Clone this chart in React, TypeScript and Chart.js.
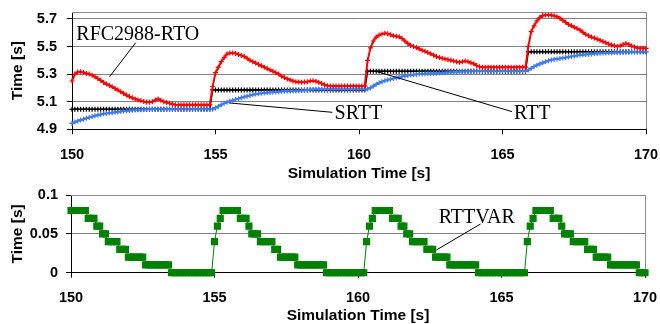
import React, { useEffect, useRef } from 'react';
import { Chart, registerables } from 'chart.js';

Chart.register(...registerables);

// Sampling grid (simulation time, s)
const T: number[] = Array.from({ length: 201 }, (_, i) => Math.round((150 + i * 0.1) * 10) / 10);
const X_TICKS = [150, 155, 160, 165, 170];
const TOP_Y_TICKS = [4.9, 5.1, 5.3, 5.5, 5.7];
const BOTTOM_Y_TICKS = [0, 0.05, 0.1];

// RFC2988-RTO (red)
const RTO: number[] = [
  5.25, 5.30, 5.315, 5.317, 5.312, 5.305, 5.30, 5.292, 5.28, 5.268,
  5.255, 5.24, 5.228, 5.218, 5.208, 5.196, 5.184, 5.172, 5.16, 5.148,
  5.137, 5.128, 5.12, 5.113, 5.108, 5.101, 5.097, 5.096, 5.10, 5.112,
  5.12, 5.11, 5.10, 5.094, 5.088, 5.082, 5.078, 5.077, 5.077, 5.077,
  5.077, 5.077, 5.077, 5.077, 5.077, 5.077, 5.077, 5.077, 5.077, 5.21,
  5.31, 5.35, 5.39, 5.42, 5.445, 5.452, 5.452, 5.45, 5.442, 5.435,
  5.428, 5.415, 5.40, 5.39, 5.38, 5.37, 5.36, 5.35, 5.34, 5.33,
  5.32, 5.31, 5.30, 5.285, 5.275, 5.265, 5.258, 5.25, 5.245, 5.242,
  5.241, 5.242, 5.245, 5.25, 5.252, 5.248, 5.24, 5.232, 5.222, 5.216,
  5.214, 5.214, 5.214, 5.214, 5.214, 5.214, 5.214, 5.214, 5.214, 5.214,
  5.214, 5.214, 5.214, 5.40, 5.49, 5.54, 5.568, 5.583, 5.59, 5.596,
  5.593, 5.585, 5.577, 5.574, 5.57, 5.558, 5.54, 5.522, 5.508, 5.50,
  5.492, 5.482, 5.472, 5.465, 5.456, 5.447, 5.437, 5.427, 5.42, 5.414,
  5.41, 5.405, 5.40, 5.395, 5.39, 5.386, 5.39, 5.395, 5.39, 5.382,
  5.375, 5.362, 5.354, 5.35, 5.35, 5.35, 5.35, 5.35, 5.35, 5.35,
  5.35, 5.35, 5.35, 5.35, 5.35, 5.35, 5.35, 5.35, 5.35, 5.50,
  5.608, 5.65, 5.685, 5.71, 5.724, 5.728, 5.729, 5.727, 5.722, 5.716,
  5.705, 5.69, 5.675, 5.66, 5.65, 5.64, 5.63, 5.62, 5.603, 5.588,
  5.578, 5.568, 5.561, 5.553, 5.545, 5.536, 5.528, 5.518, 5.511, 5.505,
  5.50, 5.505, 5.514, 5.522, 5.515, 5.503, 5.497, 5.489, 5.487, 5.487,
  5.487,
];

// SRTT (blue)
const SRTT: number[] = [
  4.943, 4.952, 4.96, 4.967, 4.973, 4.98, 4.986, 4.992, 4.998, 5.004,
  5.008, 5.012, 5.015, 5.018, 5.02, 5.023, 5.026, 5.029, 5.032, 5.034,
  5.036, 5.038, 5.04, 5.041, 5.042, 5.043, 5.044, 5.045, 5.045, 5.045,
  5.045, 5.045, 5.045, 5.045, 5.045, 5.045, 5.045, 5.045, 5.045, 5.045,
  5.045, 5.045, 5.045, 5.045, 5.045, 5.045, 5.045, 5.045, 5.045, 5.046,
  5.055, 5.066, 5.078, 5.088, 5.096, 5.104, 5.11, 5.116, 5.122, 5.129,
  5.135, 5.14, 5.145, 5.15, 5.155, 5.158, 5.161, 5.163, 5.165, 5.167,
  5.168, 5.17, 5.172, 5.174, 5.176, 5.177, 5.178, 5.179, 5.18, 5.18,
  5.181, 5.182, 5.185, 5.188, 5.189, 5.19, 5.19, 5.19, 5.19, 5.19,
  5.19, 5.19, 5.19, 5.19, 5.19, 5.19, 5.19, 5.19, 5.19, 5.19,
  5.19, 5.19, 5.19, 5.192, 5.2, 5.213, 5.226, 5.237, 5.245, 5.252,
  5.258, 5.263, 5.268, 5.273, 5.278, 5.283, 5.287, 5.29, 5.293, 5.296,
  5.298, 5.3, 5.301, 5.302, 5.304, 5.305, 5.306, 5.307, 5.308, 5.309,
  5.31, 5.312, 5.313, 5.314, 5.316, 5.317, 5.318, 5.319, 5.32, 5.321,
  5.322, 5.322, 5.322, 5.322, 5.322, 5.322, 5.322, 5.322, 5.322, 5.322,
  5.322, 5.322, 5.322, 5.322, 5.322, 5.322, 5.322, 5.322, 5.322, 5.33,
  5.342, 5.355, 5.365, 5.374, 5.382, 5.39, 5.397, 5.403, 5.407, 5.41,
  5.413, 5.416, 5.42, 5.424, 5.428, 5.431, 5.435, 5.438, 5.44, 5.442,
  5.444, 5.446, 5.448, 5.45, 5.451, 5.452, 5.453, 5.454, 5.455, 5.456,
  5.457, 5.457, 5.458, 5.458, 5.459, 5.46, 5.46, 5.461, 5.462, 5.462,
  5.463,
];

// RTT (black)
const RTT: number[] = [
  5.045, 5.045, 5.045, 5.045, 5.045, 5.045, 5.045, 5.045, 5.045, 5.045,
  5.045, 5.045, 5.045, 5.045, 5.045, 5.045, 5.045, 5.045, 5.045, 5.045,
  5.045, 5.045, 5.045, 5.045, 5.045, 5.045, 5.045, 5.045, 5.045, 5.045,
  5.045, 5.045, 5.045, 5.045, 5.045, 5.045, 5.045, 5.045, 5.045, 5.045,
  5.045, 5.045, 5.045, 5.045, 5.045, 5.045, 5.045, 5.045, 5.045, 5.185,
  5.185, 5.185, 5.185, 5.185, 5.185, 5.185, 5.185, 5.185, 5.185, 5.185,
  5.185, 5.185, 5.185, 5.185, 5.185, 5.185, 5.185, 5.185, 5.185, 5.185,
  5.185, 5.185, 5.185, 5.185, 5.185, 5.185, 5.185, 5.185, 5.185, 5.185,
  5.185, 5.185, 5.185, 5.185, 5.185, 5.185, 5.185, 5.185, 5.185, 5.185,
  5.185, 5.185, 5.185, 5.185, 5.185, 5.185, 5.185, 5.185, 5.185, 5.185,
  5.185, 5.185, 5.185, 5.32, 5.32, 5.32, 5.32, 5.32, 5.32, 5.32,
  5.32, 5.32, 5.32, 5.32, 5.32, 5.32, 5.32, 5.32, 5.32, 5.32,
  5.32, 5.32, 5.32, 5.32, 5.32, 5.32, 5.32, 5.32, 5.32, 5.32,
  5.32, 5.32, 5.32, 5.32, 5.32, 5.32, 5.32, 5.32, 5.32, 5.32,
  5.32, 5.32, 5.32, 5.32, 5.32, 5.32, 5.32, 5.32, 5.32, 5.32,
  5.32, 5.32, 5.32, 5.32, 5.32, 5.32, 5.32, 5.32, 5.32, 5.462,
  5.462, 5.462, 5.462, 5.462, 5.462, 5.462, 5.462, 5.462, 5.462, 5.462,
  5.462, 5.462, 5.462, 5.462, 5.462, 5.462, 5.462, 5.462, 5.462, 5.462,
  5.462, 5.462, 5.462, 5.462, 5.462, 5.462, 5.462, 5.462, 5.462, 5.462,
  5.462, 5.462, 5.462, 5.462, 5.462, 5.462, 5.462, 5.462, 5.462, 5.462,
  5.462,
];

// RTTVAR (green)
const RTTVAR: number[] = [
  0.08, 0.08, 0.08, 0.08, 0.08, 0.08, 0.07, 0.07, 0.07, 0.06,
  0.06, 0.05, 0.05, 0.04, 0.04, 0.04, 0.04, 0.03, 0.03, 0.03,
  0.02, 0.02, 0.02, 0.02, 0.02, 0.02, 0.01, 0.01, 0.01, 0.01,
  0.01, 0.01, 0.01, 0.01, 0.01, 0, 0, 0, 0, 0,
  0, 0, 0, 0, 0, 0, 0, 0, 0, 0,
  0.04, 0.06, 0.07, 0.08, 0.08, 0.08, 0.08, 0.08, 0.08, 0.07,
  0.07, 0.07, 0.06, 0.05, 0.05, 0.05, 0.04, 0.04, 0.04, 0.04,
  0.04, 0.03, 0.03, 0.02, 0.02, 0.02, 0.02, 0.02, 0.02, 0.01,
  0.01, 0.01, 0.01, 0.01, 0.01, 0.01, 0.01, 0.01, 0.01, 0,
  0, 0, 0, 0, 0, 0, 0, 0, 0, 0,
  0, 0, 0, 0.04, 0.06, 0.07, 0.08, 0.08, 0.08, 0.08,
  0.08, 0.08, 0.07, 0.07, 0.07, 0.06, 0.06, 0.05, 0.05, 0.04,
  0.04, 0.04, 0.04, 0.04, 0.03, 0.03, 0.03, 0.02, 0.02, 0.02,
  0.02, 0.02, 0.01, 0.01, 0.01, 0.01, 0.01, 0.01, 0.01, 0.01,
  0.01, 0.01, 0, 0, 0, 0, 0, 0, 0, 0,
  0, 0, 0, 0, 0, 0, 0, 0, 0, 0.04,
  0.06, 0.07, 0.08, 0.08, 0.08, 0.08, 0.08, 0.08, 0.07, 0.07,
  0.07, 0.06, 0.05, 0.05, 0.05, 0.04, 0.04, 0.04, 0.04, 0.04,
  0.03, 0.03, 0.03, 0.02, 0.02, 0.02, 0.02, 0.02, 0.01, 0.01,
  0.01, 0.01, 0.01, 0.01, 0.01, 0.01, 0.01, 0.01, 0, 0,
  0,
];

// Callout labels (text anchor and leader line, in data units)
type Note = { text: string; tx: number; ty: number; x1: number; y1: number; x2: number; y2: number };
const TOP_NOTES: Note[] = [
  { text: 'RFC2988-RTO', tx: 150.15, ty: 5.548, x1: 152.22, y1: 5.528, x2: 151.31, y2: 5.281 },
  { text: 'SRTT', tx: 159.15, ty: 4.972, x1: 155.49, y1: 5.091, x2: 159.07, y2: 5.023 },
  { text: 'RTT', tx: 165.4, ty: 4.972, x1: 160.59, y1: 5.32, x2: 165.33, y2: 5.028 },
];
const BOTTOM_NOTES: Note[] = [
  { text: 'RTTVAR', tx: 162.81, ty: 0.0636, x1: 164.27, y1: 0.0627, x2: 162.73, y2: 0.0292 },
];

const SANS = '"Liberation Sans", Arial, Helvetica, sans-serif';
const SERIF = '"Liberation Serif", "Times New Roman", serif';
const tickFont = { family: SANS, size: 14.5, weight: 'bold' as const, lineHeight: 1 };
const titleFont = { family: SANS, size: 15.5, weight: 'bold' as const, lineHeight: 1 };

const pts = (v: number[]) => v.map((y, i) => ({ x: T[i], y }));

const framePlugin = {
  id: 'frame',
  beforeDatasetsDraw(chart: any) {
    const { ctx, chartArea: a } = chart;
    const top = Math.round(a.top) + 0.5;
    const right = Math.round(a.right) + 0.5;
    ctx.save();
    ctx.strokeStyle = '#8c8c8c';
    ctx.lineWidth = 1;
    ctx.beginPath();
    ctx.moveTo(Math.round(a.left), top);
    ctx.lineTo(right, top);
    ctx.lineTo(right, Math.round(a.bottom));
    ctx.stroke();
    ctx.restore();
  },
};

const notesPlugin = (notes: Note[]) => ({
  id: 'notes',
  afterDatasetsDraw(chart: any) {
    const { ctx, scales } = chart;
    const xs = scales.x;
    const ys = scales.y;
    ctx.save();
    ctx.strokeStyle = '#000';
    ctx.lineWidth = 1;
    ctx.fillStyle = '#000';
    ctx.font = `20px ${SERIF}`;
    ctx.textAlign = 'left';
    ctx.textBaseline = 'alphabetic';
    for (const n of notes) {
      ctx.beginPath();
      ctx.moveTo(xs.getPixelForValue(n.x1), ys.getPixelForValue(n.y1));
      ctx.lineTo(xs.getPixelForValue(n.x2), ys.getPixelForValue(n.y2));
      ctx.stroke();
      ctx.fillText(n.text, xs.getPixelForValue(n.tx), ys.getPixelForValue(n.ty));
    }
    ctx.restore();
  },
});

function xScale(height: number, titlePadBottom: number) {
  return {
    type: 'linear' as const,
    min: 150,
    max: 170,
    afterBuildTicks: (s: any) => {
      s.ticks = X_TICKS.map((v) => ({ value: v }));
    },
    afterFit: (s: any) => {
      s.height = height;
      s.paddingLeft = 0;
      s.paddingRight = 0;
    },
    grid: { drawOnChartArea: false, drawTicks: true, tickLength: 5, tickColor: '#000' },
    border: { color: '#000', width: 1 },
    ticks: { font: tickFont, color: '#000', padding: 13, maxRotation: 0, autoSkip: false },
    title: {
      display: true,
      text: 'Simulation Time [s]',
      font: titleFont,
      color: '#000',
      padding: { top: 0, bottom: titlePadBottom },
    },
  };
}

function yScale(min: number, max: number, ticks: number[], width: number, pad: number, fmt: (v: number) => string) {
  return {
    type: 'linear' as const,
    min,
    max,
    afterBuildTicks: (s: any) => {
      s.ticks = ticks.map((v) => ({ value: v }));
    },
    afterFit: (s: any) => {
      s.width = width;
      s.paddingTop = 0;
      s.paddingBottom = 0;
    },
    grid: { color: '#808080', lineWidth: 1, drawTicks: true, tickLength: 5, tickColor: '#000' },
    border: { color: '#000', width: 1 },
    ticks: { font: tickFont, color: '#000', padding: pad, callback: (v: any) => fmt(Number(v)) },
    title: {
      display: true,
      text: 'Time [s]',
      font: titleFont,
      color: '#000',
      padding: { top: 10, bottom: 0 },
    },
  };
}

const lineDs = (label: string, data: number[], color: string, style: string, radius: number, bw: number) => ({
  label,
  data: pts(data),
  borderColor: color,
  backgroundColor: color,
  borderWidth: bw,
  pointStyle: style,
  pointRadius: radius,
  pointBorderWidth: 1.2,
  pointBorderColor: color,
  pointBackgroundColor: color,
  tension: 0,
  clip: false as const,
});

export default function App() {
  const topRef = useRef<HTMLCanvasElement | null>(null);
  const botRef = useRef<HTMLCanvasElement | null>(null);

  useEffect(() => {
    Chart.defaults.color = '#000';
    const common = {
      responsive: false,
      maintainAspectRatio: false,
      animation: false as const,
      events: [] as any[],
      plugins: { legend: { display: false }, tooltip: { enabled: false } },
    };

    const top = new Chart(topRef.current as HTMLCanvasElement, {
      type: 'line',
      data: {
        datasets: [
          lineDs('RFC2988-RTO', RTO, '#ff0000', 'cross', 2.5, 2),
          lineDs('SRTT', SRTT, '#3d7bf0', 'cross', 2.5, 2),
          lineDs('RTT', RTT, '#000000', 'cross', 2.5, 1.5),
        ],
      },
      options: {
        ...common,
        layout: { padding: { left: 0, right: 14, top: 12, bottom: 0 } },
        scales: {
          x: xScale(183 - 129.3, 1.75),
          y: yScale(4.9, 5.75, TOP_Y_TICKS, 72, 10, (v) => v.toFixed(1)),
        },
      } as any,
      plugins: [framePlugin, notesPlugin(TOP_NOTES)],
    });

    const bottom = new Chart(botRef.current as HTMLCanvasElement, {
      type: 'line',
      data: {
        datasets: [lineDs('RTTVAR', RTTVAR, '#008000', 'rect', 4.2, 1)],
      },
      options: {
        ...common,
        layout: { padding: { left: 0, right: 15, top: 12, bottom: 0 } },
        scales: {
          x: xScale(141 - 89.7, 0.75),
          y: yScale(0, 0.1, BOTTOM_Y_TICKS, 71, 8, (v) => String(v)),
        },
      } as any,
      plugins: [framePlugin, notesPlugin(BOTTOM_NOTES)],
    });

    return () => {
      top.destroy();
      bottom.destroy();
    };
  }, []);

  return (
    <div style={{ position: 'absolute', left: 0, top: 0, width: 660, height: 324, background: '#fff' }}>
      <canvas ref={topRef} width={660} height={183} style={{ position: 'absolute', left: 0, top: 0 }} />
      <canvas ref={botRef} width={660} height={141} style={{ position: 'absolute', left: 0, top: 183 }} />
    </div>
  );
}
